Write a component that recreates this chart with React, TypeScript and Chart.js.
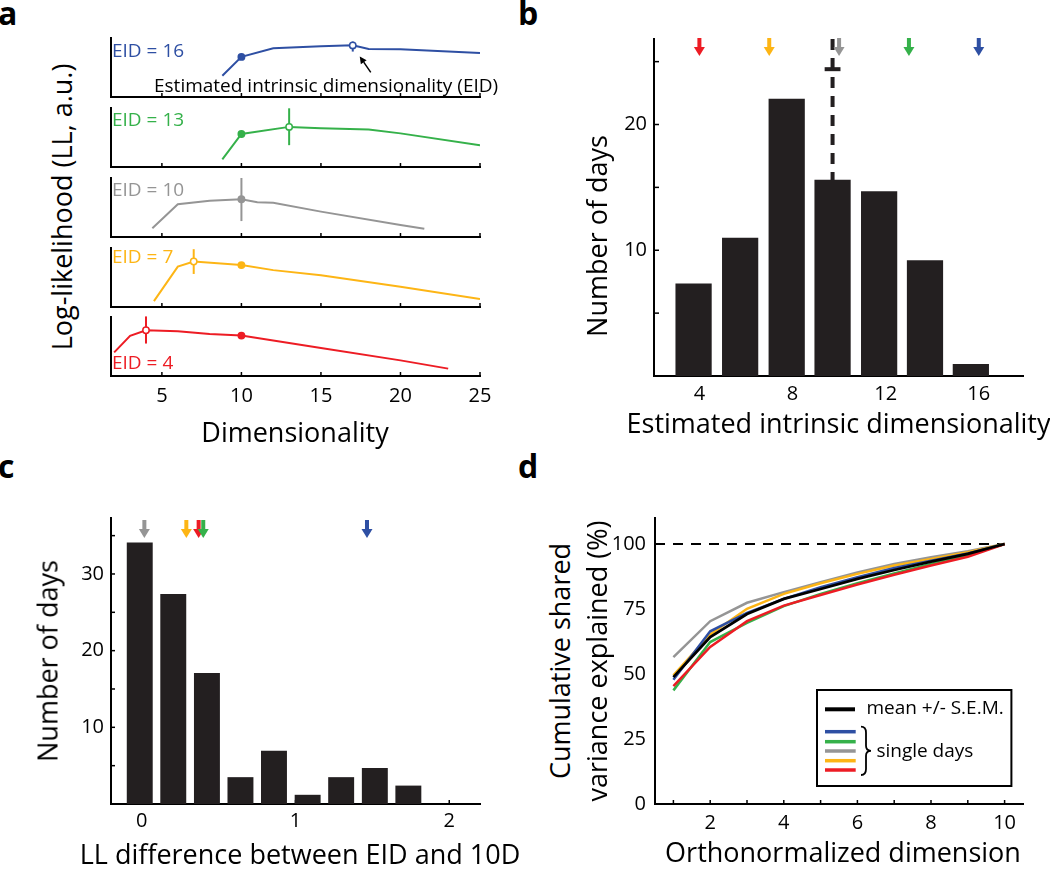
import React, { useEffect, useRef } from 'react';
import { Chart, registerables } from 'chart.js';

Chart.register(...registerables);

const FONT = '"Open Sans", "Noto Sans", "DejaVu Sans", sans-serif';
const INK = '#231f20';
const BLUE = '#2e4fa3';
const GREEN = '#35b14a';
const GRAY = '#959595';
const ORANGE = '#fdb515';
const RED = '#ed1c24';

/* ---------------- panel a : log-likelihood curves ---------------- */
const aXMin = 1.8;
const aXMax = 25;
const aXTicks = [5, 10, 15, 20, 25];
const aRefDim = 10;
const aDims16 = [8.8, 10, 12, 15, 17, 18, 20, 25];
const aLL16 = [3.6, 6.8, 8.25, 8.6, 8.75, 8.15, 8.1, 7.45];
const aDims13 = [8.8, 10, 13, 15, 18, 20, 25];
const aLL13 = [1.3, 5.6, 6.8, 6.55, 6.35, 5.7, 3.7];
const aDims10 = [4.4, 6, 8, 10, 11, 12, 15, 20, 21.5];
const aLL10 = [1.5, 5.55, 6.15, 6.4, 5.9, 5.8, 4.3, 2.05, 1.4];
const aDims7 = [4.5, 6, 7, 10, 12, 15, 20, 25];
const aLL7 = [1.0, 6.85, 7.7, 7.1, 6.25, 5.4, 3.45, 1.35];
const aDims4 = [2, 3, 4, 6, 8, 10, 15, 20, 23];
const aLL4 = [4.0, 6.8, 7.75, 7.6, 7.1, 6.85, 4.75, 2.65, 1.25];
const aColors = [BLUE, GREEN, GRAY, ORANGE, RED];
const aEidLabels = ['EID = 16', 'EID = 13', 'EID = 10', 'EID = 7', 'EID = 4'];
const aEidDims = [17, 13, 10, 7, 4];
const aErrLow = [7.7, 3.7, 2.7, 5.6, 5.5];
const aErrHigh = [9.4, 9.95, 10, 9.8, 10.1];
const aNote = 'Estimated intrinsic dimensionality (EID)';

/* ---------------- panel b : EID histogram ---------------- */
const bBinCenters = [3.75, 5.75, 7.75, 9.72, 11.72, 13.69, 15.66];
const bDays = [7.35, 11.0, 22.05, 15.6, 14.7, 9.2, 0.95];
const bMeanEid = 9.72;
const bMeanSem = 0.34;
const bMeanMarkY = 24.4;
const bXMin = 2.05;
const bXMax = 17.9;
const bYMax = 26.8;
const bXLabels = [4, 8, 12, 16];
const bYLabels = [10, 20];
const bYTicks = [5, 10, 15, 20, 25];
const bArrowEids = [4, 7, 10, 13, 16];
const bArrowColors = [RED, ORANGE, GRAY, GREEN, BLUE];

/* ---------------- panel c : LL difference histogram ---------------- */
const cBinCenters = [-0.013, 0.205, 0.424, 0.642, 0.86, 1.079, 1.297, 1.516, 1.734];
const cDays = [34.1, 27.4, 17.1, 3.5, 6.95, 1.2, 3.5, 4.7, 2.4];
const cXMin = -0.2;
const cXMax = 2.2;
const cYMax = 37.3;
const cXLabels = [0, 1, 2];
const cYLabels = [10, 20, 30];
const cYTicks = [5, 10, 15, 20, 25, 30, 35];
const cArrowDiffs = [0.017, 0.29, 0.37, 0.4, 1.465];
const cArrowColors = [GRAY, ORANGE, RED, GREEN, BLUE];

/* ---------------- panel d : cumulative shared variance ---------------- */
const dDims = [1, 2, 3, 4, 5, 6, 7, 8, 9, 10];
const dMean = [48.8, 64.2, 73.1, 78.9, 82.7, 86.6, 90.0, 93.2, 96.2, 100];
const dBlue = [47.8, 66.4, 73.5, 78.9, 83.4, 87.2, 90.8, 93.6, 96.4, 100];
const dGreen = [43.7, 62.3, 69.7, 76.1, 80.8, 84.9, 88.7, 92.3, 95.8, 100];
const dGray = [56.5, 70.3, 77.4, 81.5, 85.3, 89.1, 92.3, 94.9, 97.2, 100];
const dOrange = [49.5, 65.2, 75.1, 80.8, 84.9, 88.5, 91.7, 94.2, 96.8, 100];
const dRed = [45.3, 60.4, 70.3, 76.3, 80.4, 84.4, 88.2, 91.7, 95.1, 100];
const dRefX = [0.5, 10];
const dRefY = 100;
const dXMin = 0.5;
const dXMax = 10.5;
const dYMax = 110;
const dXLabels = [2, 4, 6, 8, 10];
const dYLabels = [0, 25, 50, 75, 100];
const dXTicks = [1, 2, 3, 4, 5, 6, 7, 8, 9, 10];
const dLegendMean = 'mean +/- S.E.M.';
const dLegendDays = 'single days';
const dLegendColors = [BLUE, GREEN, GRAY, ORANGE, RED];

/* ---------------- helpers ---------------- */
type Area = { left: number; top: number; right: number; bottom: number };
type Margin = { l: number; t: number; r: number; b: number };

function ChartCanvas(props: { area: Area; margin: Margin; make: (m: Margin) => any }) {
  const { area, margin, make } = props;
  const ref = useRef<HTMLCanvasElement | null>(null);
  const w = Math.round(area.right - area.left + margin.l + margin.r);
  const h = Math.round(area.bottom - area.top + margin.t + margin.b);
  useEffect(() => {
    if (!ref.current) return;
    const chart = new Chart(ref.current, make(margin));
    return () => chart.destroy();
  }, []);
  return (
    <canvas
      ref={ref}
      width={w}
      height={h}
      style={{ position: 'absolute', left: area.left - margin.l, top: area.top - margin.t, width: w, height: h }}
    />
  );
}

function axis(min: number, max: number, labels: number[], show: boolean, pad: number) {
  return {
    type: 'linear',
    min,
    max,
    offset: false,
    grid: { display: false, drawTicks: false, offset: false },
    border: { display: true, color: '#000', width: 2 },
    ticks: { display: show, color: '#000', font: { family: FONT, size: 20 }, padding: pad, maxRotation: 0, autoSkip: false },
    afterBuildTicks: (s: any) => {
      s.ticks = labels.map((v) => ({ value: v }));
    },
  };
}

function baseOptions(m: Margin, x: any, y: any) {
  return {
    responsive: false,
    maintainAspectRatio: false,
    animation: false,
    events: [],
    layout: { padding: { top: m.t, right: m.r, left: 0, bottom: 0 } },
    plugins: { legend: { display: false }, tooltip: { enabled: false }, title: { display: false } },
    scales: {
      x: { ...x, afterFit: (s: any) => { s.height = m.b; } },
      y: { ...y, afterFit: (s: any) => { s.width = m.l; } },
    },
  };
}

function inwardTicks(chart: any, xs: number[], ys: number[], len: number) {
  const { ctx, chartArea: a, scales } = chart;
  ctx.save();
  ctx.strokeStyle = '#000';
  ctx.lineWidth = 1.5;
  xs.forEach((v) => {
    const p = scales.x.getPixelForValue(v);
    ctx.beginPath();
    ctx.moveTo(p, a.bottom);
    ctx.lineTo(p, a.bottom - len);
    ctx.stroke();
  });
  ys.forEach((v) => {
    const p = scales.y.getPixelForValue(v);
    ctx.beginPath();
    ctx.moveTo(a.left, p);
    ctx.lineTo(a.left + len, p);
    ctx.stroke();
  });
  ctx.restore();
}

function downArrow(ctx: CanvasRenderingContext2D, x: number, yTop: number, color: string) {
  const shaftW = 4, shaftLen = 9, headW = 11, headLen = 9;
  ctx.fillStyle = color;
  ctx.fillRect(x - shaftW / 2, yTop, shaftW, shaftLen + 0.5);
  ctx.beginPath();
  ctx.moveTo(x - headW / 2, yTop + shaftLen);
  ctx.lineTo(x + headW / 2, yTop + shaftLen);
  ctx.lineTo(x, yTop + shaftLen + headLen);
  ctx.closePath();
  ctx.fill();
}

function noteArrow(chart: any) {
  const { ctx, scales } = chart;
  const k = aDims16.indexOf(aEidDims[0]);
  const px = scales.x.getPixelForValue(aEidDims[0]);
  const py = scales.y.getPixelForValue(aLL16[k]);
  const tail = { x: px + 18, y: py + 27 };
  const tip = { x: px + 7, y: py + 11 };
  const ang = Math.atan2(tip.y - tail.y, tip.x - tail.x);
  const hl = 7, hw = 3.5;
  const bx = tip.x - hl * Math.cos(ang), by = tip.y - hl * Math.sin(ang);
  ctx.save();
  ctx.strokeStyle = '#000';
  ctx.fillStyle = '#000';
  ctx.lineWidth = 1.5;
  ctx.beginPath();
  ctx.moveTo(tail.x, tail.y);
  ctx.lineTo(bx, by);
  ctx.stroke();
  ctx.beginPath();
  ctx.moveTo(tip.x, tip.y);
  ctx.lineTo(bx + hw * Math.sin(ang), by - hw * Math.cos(ang));
  ctx.lineTo(bx - hw * Math.sin(ang), by + hw * Math.cos(ang));
  ctx.closePath();
  ctx.fill();
  ctx.restore();
}

/* ---------------- chart builders ---------------- */
const aSeries = [
  { dims: aDims16, ll: aLL16 },
  { dims: aDims13, ll: aLL13 },
  { dims: aDims10, ll: aLL10 },
  { dims: aDims7, ll: aLL7 },
  { dims: aDims4, ll: aLL4 },
];

function makeA(i: number) {
  return (m: Margin) => {
    const s = aSeries[i];
    const color = aColors[i];
    const eid = aEidDims[i];
    const last = i === aSeries.length - 1;
    return {
      type: 'line',
      data: {
        datasets: [
          {
            data: s.dims.map((d, k) => ({ x: d, y: s.ll[k] })),
            borderColor: color,
            borderWidth: 2,
            tension: 0,
            pointRadius: s.dims.map((d) => (d === aRefDim || d === eid ? 3.2 : 0)),
            pointBackgroundColor: s.dims.map((d) => (d === eid && d !== aRefDim ? '#fff' : color)),
            pointBorderColor: color,
            pointBorderWidth: 1.5,
            order: 0,
          },
          {
            data: [{ x: eid, y: aErrLow[i] }, { x: eid, y: aErrHigh[i] }],
            borderColor: color,
            borderWidth: 2,
            pointRadius: 0,
            clip: false,
            order: 1,
          },
        ],
      },
      options: baseOptions(
        m,
        axis(aXMin, aXMax, aXTicks, last, 8),
        {
          type: 'linear', min: 0, max: 10,
          grid: { display: false, drawTicks: false },
          border: { display: true, color: '#000', width: 2 },
          ticks: { display: false },
        },
      ),
      plugins: [
        {
          id: 'aDecor' + i,
          beforeDatasetsDraw: (c: any) => inwardTicks(c, aXTicks, [], 4),
          afterDraw: (c: any) => { if (i === 0) noteArrow(c); },
        },
      ],
    };
  };
}

function makeB(m: Margin) {
  return {
    type: 'bar',
    data: {
      datasets: [
        {
          type: 'bar',
          data: bBinCenters.map((x, k) => ({ x, y: bDays[k] })),
          backgroundColor: INK,
          borderWidth: 0,
          barPercentage: 1,
          categoryPercentage: 0.79,
          order: 0,
        },
        {
          type: 'line',
          data: [{ x: bMeanEid, y: bYMax }, { x: bMeanEid, y: 0 }],
          borderColor: INK,
          borderWidth: 4,
          borderDash: [11, 8],
          pointRadius: 0,
          clip: false,
          order: 2,
        },
        {
          type: 'line',
          data: [{ x: bMeanEid - bMeanSem, y: bMeanMarkY }, { x: bMeanEid + bMeanSem, y: bMeanMarkY }],
          borderColor: INK,
          borderWidth: 4,
          pointRadius: 0,
          order: 1,
        },
      ],
    },
    options: baseOptions(m, axis(bXMin, bXMax, bXLabels, true, 6), axis(0, bYMax, bYLabels, true, 7)),
    plugins: [
      {
        id: 'bDecor',
        beforeDatasetsDraw: (c: any) => inwardTicks(c, bXLabels, bYTicks, 5),
        afterDraw: (c: any) => {
          const { ctx, chartArea: a, scales } = c;
          ctx.save();
          bArrowEids.forEach((v, k) => downArrow(ctx, scales.x.getPixelForValue(v), a.top - 1, bArrowColors[k]));
          ctx.restore();
        },
      },
    ],
  };
}

function makeC(m: Margin) {
  return {
    type: 'bar',
    data: {
      datasets: [
        {
          type: 'bar',
          data: cBinCenters.map((x, k) => ({ x, y: cDays[k] })),
          backgroundColor: INK,
          borderWidth: 0,
          barPercentage: 1,
          categoryPercentage: 0.774,
        },
      ],
    },
    options: baseOptions(m, axis(cXMin, cXMax, cXLabels, true, 5), axis(0, cYMax, cYLabels, true, 7)),
    plugins: [
      {
        id: 'cDecor',
        beforeDatasetsDraw: (c: any) => inwardTicks(c, cXLabels, cYTicks, 4),
        afterDraw: (c: any) => {
          const { ctx, chartArea: a, scales } = c;
          ctx.save();
          cArrowDiffs.forEach((v, k) => downArrow(ctx, scales.x.getPixelForValue(v), a.top + 2, cArrowColors[k]));
          ctx.restore();
        },
      },
    ],
  };
}

function dLegend(chart: any) {
  const { ctx, chartArea: a } = chart;
  const L = a.right - 206, T = a.bottom - 114, W = 194.4, H = 96;
  ctx.save();
  ctx.fillStyle = '#fff';
  ctx.fillRect(L, T, W, H);
  ctx.strokeStyle = '#000';
  ctx.lineWidth = 2;
  ctx.strokeRect(L, T, W, H);
  ctx.lineCap = 'butt';
  ctx.lineWidth = 4;
  ctx.strokeStyle = '#000';
  ctx.beginPath();
  ctx.moveTo(L + 8, T + 19.3);
  ctx.lineTo(L + 38, T + 19.3);
  ctx.stroke();
  const ys = [41.7, 51.7, 61, 70.7, 80];
  ctx.lineWidth = 3.5;
  dLegendColors.forEach((col, k) => {
    ctx.strokeStyle = col;
    ctx.beginPath();
    ctx.moveTo(L + 8, T + ys[k]);
    ctx.lineTo(L + 38.7, T + ys[k]);
    ctx.stroke();
  });
  // brace
  const x0 = L + 44, xm = x0 + 5, xt = x0 + 10, y0 = T + 36.7, y1 = T + 85, ymid = (y0 + y1) / 2;
  ctx.strokeStyle = '#000';
  ctx.lineWidth = 1.8;
  ctx.beginPath();
  ctx.moveTo(x0, y0);
  ctx.quadraticCurveTo(xm, y0, xm, y0 + 6);
  ctx.lineTo(xm, ymid - 5);
  ctx.quadraticCurveTo(xm, ymid, xt, ymid);
  ctx.quadraticCurveTo(xm, ymid, xm, ymid + 5);
  ctx.lineTo(xm, y1 - 6);
  ctx.quadraticCurveTo(xm, y1, x0, y1);
  ctx.stroke();
  ctx.fillStyle = '#000';
  ctx.font = '19px ' + FONT;
  ctx.textBaseline = 'middle';
  ctx.textAlign = 'left';
  ctx.fillText(dLegendMean, L + 49.4, T + 19);
  ctx.fillText(dLegendDays, L + 59.4, T + 61.7);
  ctx.restore();
}

function makeD(m: Margin) {
  const line = (vals: number[], color: string, order: number, width: number) => ({
    data: dDims.map((x, k) => ({ x, y: vals[k] })),
    borderColor: color,
    borderWidth: width,
    pointRadius: 0,
    tension: 0,
    order,
  });
  return {
    type: 'line',
    data: {
      datasets: [
        {
          data: dRefX.map((x) => ({ x, y: dRefY })),
          borderColor: '#000',
          borderWidth: 2,
          borderDash: [10, 8],
          pointRadius: 0,
          clip: false,
          order: 9,
        },
        line(dGray, GRAY, 7, 2.5),
        line(dOrange, ORANGE, 6, 2.5),
        line(dBlue, BLUE, 5, 2.5),
        line(dGreen, GREEN, 4, 2.5),
        line(dRed, RED, 3, 2.5),
        line(dMean, '#000', 1, 2.8),
      ],
    },
    options: baseOptions(m, axis(dXMin, dXMax, dXLabels, true, 7), axis(0, dYMax, dYLabels, true, 9)),
    plugins: [
      {
        id: 'dDecor',
        beforeDatasetsDraw: (c: any) => inwardTicks(c, dXTicks, [], 4),
        afterDraw: (c: any) => dLegend(c),
      },
    ],
  };
}

/* ---------------- text ---------------- */
function Txt(props: { x: number; y: number; size: number; text: string; rotate?: boolean; color?: string; left?: boolean }) {
  const { x, y, size, text, rotate, color, left } = props;
  const tf = left ? 'translate(0,-50%)' : 'translate(-50%,-50%)' + (rotate ? ' rotate(-90deg)' : '');
  return (
    <div style={{ position: 'absolute', left: x, top: y, fontSize: size, lineHeight: 1, whiteSpace: 'nowrap', transform: tf, color: color || '#000' }}>
      {text}
    </div>
  );
}

function Letter(props: { x: number; y: number; text: string }) {
  return (
    <div style={{ position: 'absolute', left: props.x, top: props.y, fontSize: 32, fontWeight: 700, lineHeight: 1, color: '#000' }}>
      {props.text}
    </div>
  );
}

const aTops = [38, 108, 178, 248, 317];
const aEidLabelY = [49.7, 119, 189, 256, 362.3];

export default function App() {
  return (
    <div style={{ position: 'absolute', left: 0, top: 0, width: 1050, height: 869, background: '#fff', overflow: 'hidden', fontFamily: FONT }}>
      {aTops.map((t, i) => (
        <ChartCanvas
          key={'a' + i}
          area={{ left: 111, top: t, right: 480, bottom: t + 59 }}
          margin={{ l: 10, t: 8, r: 24, b: i === aTops.length - 1 ? 44 : 8 }}
          make={makeA(i)}
        />
      ))}
      <ChartCanvas area={{ left: 654, top: 39, right: 1023, bottom: 376 }} margin={{ l: 50, t: 30, r: 24, b: 40 }} make={makeB} />
      <ChartCanvas area={{ left: 111, top: 518, right: 480, bottom: 804 }} margin={{ l: 50, t: 30, r: 24, b: 36 }} make={makeC} />
      <ChartCanvas area={{ left: 655, top: 518, right: 1023, bottom: 804 }} margin={{ l: 55, t: 30, r: 24, b: 36 }} make={makeD} />

      {aEidLabels.map((s, i) => (
        <Txt key={'l' + i} x={112} y={aEidLabelY[i]} size={19} text={s} color={aColors[i]} left />
      ))}
      <Txt x={154} y={84.5} size={19} text={aNote} left />

      <Txt x={61} y={206.7} size={27} text="Log-likelihood (LL, a.u.)" rotate />
      <Txt x={295} y={431} size={27} text="Dimensionality" />
      <Txt x={595.5} y={235.7} size={27} text="Number of days" rotate />
      <Txt x={838.5} y={422} size={27} text="Estimated intrinsic dimensionality" />
      <Txt x={47} y={660.7} size={27} text="Number of days" rotate />
      <Txt x={300} y={853} size={27} text="LL difference between EID and 10D" />
      <Txt x={558.5} y={661} size={27} text="Cumulative shared" rotate />
      <Txt x={596} y={661} size={27} text="variance explained (%)" rotate />
      <Txt x={843} y={851} size={27} text="Orthonormalized dimension" />

      <Letter x={-2} y={-3.4} text="a" />
      <Letter x={518} y={-3.4} text="b" />
      <Letter x={-2} y={449.6} text="c" />
      <Letter x={518} y={449.6} text="d" />
    </div>
  );
}
